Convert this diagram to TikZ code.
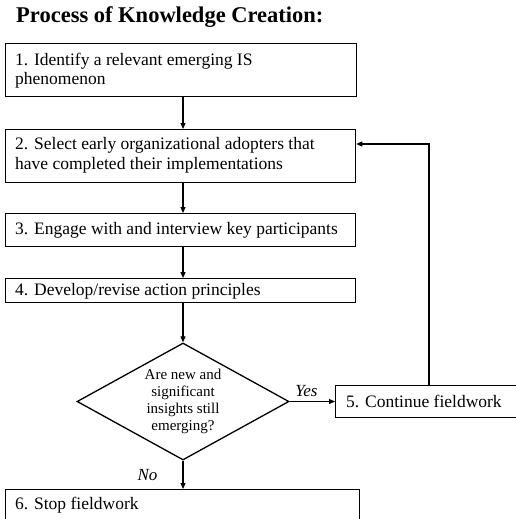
\documentclass[tikz,border=0pt]{standalone}
\usepackage{fontspec}
\setmainfont{Liberation Serif}
\usetikzlibrary{arrows.meta,shapes.geometric}
\begin{document}
\begin{tikzpicture}[x=1pt,y=-1pt,
  box/.style={draw,line width=1.3pt,inner sep=0pt},
  txt/.style={anchor=west,align=left,font=\fontsize{17.5}{19.5}\selectfont,inner sep=0pt},
  arr/.style={line width=1.1pt,-{Triangle[length=6pt,width=5pt]}},
  lab/.style={font=\fontsize{17}{19}\selectfont\itshape,inner sep=0pt}]
\useasboundingbox (0,0) rectangle (516,519);
\node[anchor=base west,inner sep=0pt,font=\fontsize{22.5}{26}\selectfont\bfseries] (title) at (16,23) {Process of Knowledge Creation:};
% boxes
\node[box,minimum width=351pt,minimum height=53pt,anchor=north west] (b1) at (5,43) {};
\node[txt] (t1) at (15,70.5) {1. Identify a relevant emerging IS\\phenomenon};
\node[box,minimum width=350pt,minimum height=53pt,anchor=north west] (b2) at (5,129) {};
\node[txt] (t2) at (15,155.5) {2. Select early organizational adopters that\\have completed their implementations};
\node[box,minimum width=350pt,minimum height=33pt,anchor=north west] (b3) at (5,213) {};
\node[txt] (t3) at (15,230) {3. Engage with and interview key participants};
\node[box,minimum width=350pt,minimum height=24pt,anchor=north west] (b4) at (5,278) {};
\node[txt] (t4) at (15,291) {4. Develop/revise action principles};
\node[draw,line width=1.3pt,diamond,minimum width=212pt,minimum height=117pt,inner sep=0pt] (d) at (183,401.5) {};
\node[align=center,font=\fontsize{15}{17}\selectfont,inner sep=0pt] (dt) at (183,401) {Are new and\\significant\\insights still\\emerging?};
\node[box,minimum width=200pt,minimum height=32pt,anchor=north west] (b5) at (335,385) {};
\node[txt] (t5) at (346,401) {5. Continue fieldwork};
\node[box,minimum width=354pt,minimum height=40pt,anchor=north west] (b6) at (5,489) {};
\node[txt] (t6) at (15,505) {6. Stop fieldwork};
% arrows
\coordinate (x1) at (183,0);
\draw[arr] (b1.south -| x1) -- (b2.north -| x1);
\draw[arr] (b2.south -| x1) -- (b3.north -| x1);
\draw[arr] (b3.south -| x1) -- (b4.north -| x1);
\draw[arr] (b4.south -| x1) -- (d.north);
\draw[arr] (d.east) -- (b5.west |- d.east) node[lab,pos=0.37,above=4pt] (yes) {Yes};
\draw[arr] (d.south) -- (b6.north -| d.south) node[lab,pos=0.5,left=25pt] (no) {No};
\coordinate (fb) at (429,144);
\draw[arr] (b5.north -| fb) -- (fb) -- (b2.east |- fb);
\end{tikzpicture}
\end{document}
